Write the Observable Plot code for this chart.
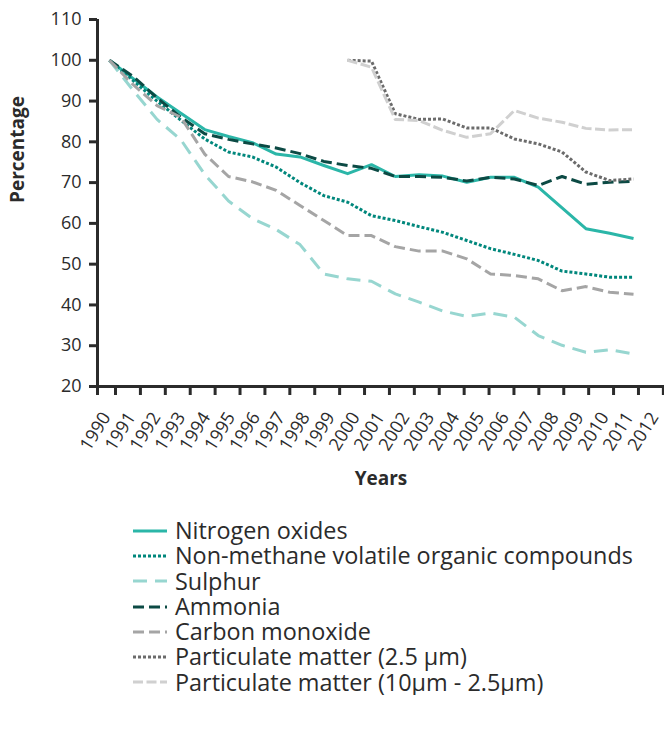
<!DOCTYPE html>
<html><head><meta charset="utf-8">
<script src="https://cdn.jsdelivr.net/npm/d3@7"></script>
<script src="https://cdn.jsdelivr.net/npm/@observablehq/plot@0.6"></script>
<style>
body{margin:0;background:#fff;font-family:"Open Sans",sans-serif;}
#legend{margin-left:133px;margin-top:13px;color:#2b2b2b;font-size:23.4px;}
.row{display:flex;align-items:center;height:25.3px;line-height:25.3px;white-space:nowrap;overflow:visible;}
.row span{line-height:25.3px;display:inline-block;height:25.3px;}
.row svg{margin-right:8px;flex:none;}
</style></head><body>
<div id="chart"></div><div id="legend"></div>
<script>
const years = [1990,1991,1992,1993,1994,1995,1996,1997,1998,1999,2000,2001,2002,2003,2004,2005,2006,2007,2008,2009,2010,2011,2012];
const yTicks = [20,30,40,50,60,70,80,90,100,110];

const nitrogenOxides = [100,95.5,91,87,83,81.3,79.8,77,76.3,74.2,72.2,74.4,71.5,71.9,71.6,70.1,71.3,71.3,68.9,63.8,58.7,57.6,56.3];
const nmvoc          = [100,95,90,85.3,80.7,77.5,76.3,73.8,70,66.8,65.2,61.9,60.7,59.2,57.8,55.8,53.8,52.4,50.9,48.3,47.6,46.8,46.8];
const sulphur        = [100,92.6,85.5,80.5,72,65.5,61.2,58.5,54.8,47.6,46.4,45.8,42.7,40.7,38.5,37.2,38,37,32.5,30.1,28.4,29,28];
const ammonia        = [100,96,90.8,86,82,80.6,79.5,78.5,77.1,75.2,74.2,73.5,71.5,71.5,71.3,70.4,71.3,70.9,69.3,71.5,69.6,70.1,70.3];
const carbonMonoxide = [100,94,88.9,86,77,71.5,70.2,68.1,64.4,60.7,57,57,54.3,53.2,53.2,51.3,47.6,47.2,46.4,43.5,44.5,43.1,42.6];
const pm25           = [null,null,null,null,null,null,null,null,null,null,100,99.8,86.9,85.5,85.6,83.4,83.4,80.7,79.5,77.5,72.6,70.5,70.9];
const pm10           = [null,null,null,null,null,null,null,null,null,null,100,98.3,85.5,85.2,82.8,81.1,82,87.7,85.8,84.8,83.3,82.9,83];

const series = [
  {name: "Nitrogen oxides", values: nitrogenOxides, color: "#2bb6a8", dash: null},
  {name: "Non-methane volatile organic compounds", values: nmvoc, color: "#00877c", dash: "3,2"},
  {name: "Sulphur", values: sulphur, color: "#97d6d0", dash: "14,8"},
  {name: "Ammonia", values: ammonia, color: "#0c4a44", dash: "11,5"},
  {name: "Carbon monoxide", values: carbonMonoxide, color: "#a5a5a5", dash: "11,5"},
  {name: "Particulate matter (2.5 µm)", values: pm25, color: "#6b6b6b", dash: "3,2"},
  {name: "Particulate matter (10µm - 2.5µm)", values: pm10, color: "#d0d0d0", dash: "10,3.5"}
];

const rows = series.flatMap(s => years.map((yr, i) => ({series: s.name, year: yr, value: s.values[i]})).filter(d => d.value != null));

// category axis of the original is drawn slightly offset/stretched relative to the data points
const xDomain = [1989.5, 2013.3];
const tickOffset = 0.256, tickStretch = 1.0453;
const axisPos = y => 1990 + tickOffset + (y - 1990) * tickStretch;

const plot = Plot.plot({
  width: 664, height: 505,
  marginLeft: 97, marginRight: 0, marginTop: 19, marginBottom: 119,
  style: {fontFamily: "Open Sans", background: "#fff", color: "#2b2b2b"},
  x: {domain: xDomain, label: null},
  y: {domain: [20, 110], label: null},
  marks: [
    Plot.axisY({ticks: yTicks, tickSize: 8, tickPadding: 8, fontSize: 18, strokeWidth: 3, color: "#2b2b2b", label: null}),
    Plot.axisX({ticks: years.map(axisPos), tickSize: 9, strokeWidth: 3, color: "#2b2b2b", tickFormat: () => "", label: null}),
    Plot.text(years, {x: axisPos, frameAnchor: "bottom", dx: -20, dy: 45, rotate: -58, text: d => String(d), fontSize: 18, fill: "#2b2b2b", textAnchor: "middle", lineAnchor: "middle"}),
    ...series.map(s => Plot.line(rows.filter(d => d.series === s.name), {
      x: "year", y: "value", stroke: s.color, strokeWidth: 3,
      strokeDasharray: s.dash, strokeLinecap: "butt", strokeLinejoin: "round"
    })),
    Plot.ruleY([20], {stroke: "#2b2b2b", strokeWidth: 3}),
    Plot.ruleX([xDomain[0]], {y1: 110, y2: 20, insetBottom: -9, stroke: "#2b2b2b", strokeWidth: 3}),
    Plot.text(["Percentage"], {text: d => d, frameAnchor: "left", dx: -80, rotate: -90, fontSize: 19, fontWeight: "bold", fill: "#2b2b2b"}),
    Plot.text(["Years"], {text: d => d, frameAnchor: "bottom", dy: 98, fontSize: 19, fontWeight: "bold", fill: "#2b2b2b"})
  ]
});
document.getElementById("chart").appendChild(plot);

const legend = document.getElementById("legend");
for (const s of series) {
  const row = document.createElement("div");
  row.className = "row";
  row.innerHTML = `<svg width="34" height="6"><line x1="0" x2="34" y1="3" y2="3" stroke="${s.color}" stroke-width="3" ${s.dash ? `stroke-dasharray="${s.dash}"` : ""}/></svg><span>${s.name}</span>`;
  legend.appendChild(row);
}
</script>
</body></html>
